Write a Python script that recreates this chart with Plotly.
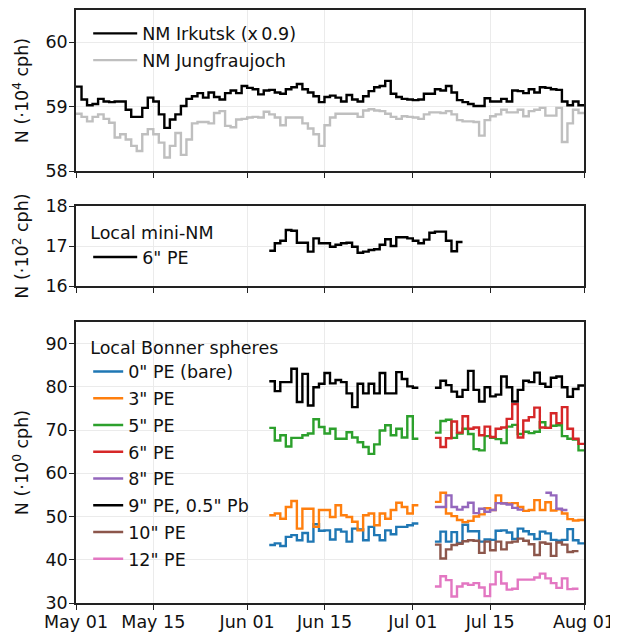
import pandas as pd
import plotly.graph_objects as go

# ---------------- data ----------------
nm_start = "2023-05-01"
irkutsk = [59.31, 59.11, 59.02, 59.04, 59.12, 59.08, 59.07, 59.08, 59.08, 58.95,
           58.84, 58.84, 58.98, 59.14, 59.08, 58.88, 58.67, 58.80, 58.88, 59.01,
           59.12, 59.16, 59.21, 59.14, 59.22, 59.15, 59.11, 59.21, 59.25, 59.21,
           59.32, 59.29, 59.27, 59.19, 59.25, 59.26, 59.22, 59.20, 59.27, 59.30,
           59.35, 59.27, 59.22, 59.16, 59.07, 59.15, 59.17, 59.14, 59.08, 59.18,
           59.11, 59.08, 59.16, 59.24, 59.30, 59.32, 59.40, 59.20, 59.15, 59.12,
           59.11, 59.10, 59.11, 59.20, 59.20, 59.27, 59.25, 59.32, 59.22, 59.10,
           59.07, 59.04, 59.01, 59.01, 59.13, 59.08, 59.08, 59.12, 59.08, 59.25,
           59.24, 59.21, 59.27, 59.22, 59.30, 59.29, 59.27, 59.26, 59.08, 59.02,
           59.08, 59.02]
jungfraujoch = [58.89, 58.84, 58.77, 58.84, 58.88, 58.81, 58.75, 58.52, 58.57, 58.49,
                58.39, 58.31, 58.57, 58.65, 58.57, 58.44, 58.21, 58.39, 58.59, 58.25,
                58.49, 58.74, 58.76, 58.76, 58.74, 58.90, 58.93, 58.70, 58.68, 58.80,
                58.81, 58.83, 58.84, 58.83, 58.92, 58.88, 58.83, 58.71, 58.83, 58.83,
                58.83, 58.74, 58.66, 58.57, 58.39, 58.71, 58.83, 58.89, 58.89, 58.89,
                58.89, 58.84, 58.94, 58.96, 58.94, 58.93, 58.89, 58.84, 58.81, 58.85,
                58.84, 58.83, 58.81, 58.88, 58.91, 58.91, 58.90, 58.93, 58.88, 58.79,
                58.77, 58.77, 58.76, 58.55, 58.79, 58.85, 58.88, 58.95, 58.91, 58.91,
                58.95, 58.85, 58.93, 58.95, 58.98, 58.86, 58.86, 58.98, 58.45, 58.74,
                58.95, 58.90]

local_start = "2023-06-05"
mini_nm_6pe = [16.88, 17.07, 17.13, 17.40, 17.38, 17.08, 17.08, 16.86, 17.19, 17.07,
               17.07, 16.98, 17.03, 17.07, 17.08, 16.98, 16.83, 16.86, 16.90, 16.92,
               17.03, 17.17, 17.00, 17.22, 17.22, 17.19, 17.13, 17.07, 17.16, 17.33,
               17.36, 17.36, 17.13, 16.87, 17.10]

# Bonner spheres: block A = Jun 05..Jul 01, gap Jul 02..04, block B from Jul 05
gap = [None] * 3
no_block_a = [None] * 27
bs0_a = [43.4, 43.8, 43.2, 45.3, 45.7, 44.5, 46.2, 44.2, 48.2, 46.7, 46.8, 44.7, 47.0, 46.5,
         44.2, 47.2, 47.0, 44.5, 47.6, 45.7, 44.5, 46.8, 45.9, 47.6, 47.6, 48.0, 48.4]
bs0_b = [44.2, 46.5, 44.2, 46.4, 43.9, 48.1, 46.6, 46.6, 44.2, 44.7, 44.6, 46.7, 46.8, 46.3,
         44.8, 47.2, 46.6, 45.9, 44.8, 46.5, 46.1, 44.6, 44.4, 44.6, 47.1, 44.5, 43.8]
bs3_a = [50.3, 50.7, 49.5, 52.2, 53.6, 47.2, 51.8, 51.8, 47.6, 51.5, 51.5, 49.9, 52.6, 50.3,
         49.9, 48.8, 46.8, 50.3, 50.7, 48.0, 50.7, 49.5, 51.5, 53.2, 52.2, 50.7, 52.6]
bs3_b = [53.4, 55.5, 50.7, 50.1, 49.2, 48.7, 49.0, 50.0, 50.5, 51.9, 51.5, 54.9, 53.1, 53.0,
         53.1, 52.2, 51.3, 51.5, 53.8, 51.5, 53.3, 51.4, 51.7, 50.7, 49.4, 49.1, 49.2]
bs5_a = [70.5, 67.6, 68.8, 66.2, 68.2, 68.2, 68.8, 69.2, 72.5, 70.7, 69.2, 70.3, 68.0, 68.0,
         69.5, 68.3, 67.2, 66.1, 64.5, 66.7, 69.9, 71.1, 68.8, 70.3, 68.3, 73.2, 68.0]
bs5_b = [69.4, 72.1, 72.4, 68.2, 69.2, 70.3, 69.1, 65.6, 65.3, 68.6, 68.2, 67.9, 67.0, 70.8,
         71.2, 69.1, 69.6, 69.3, 69.6, 71.8, 70.5, 71.0, 71.1, 68.6, 68.0, 67.8, 65.3]
bs6_b = [68.2, 66.1, 68.1, 72.0, 69.4, 73.2, 70.3, 70.6, 68.8, 70.8, 68.4, 70.3, 70.6, 72.6,
         76.0, 68.3, 72.2, 73.0, 75.2, 70.6, 70.5, 73.9, 71.6, 75.3, 70.3, 68.0, 66.8]
bs8_b = [52.2, 52.2, 54.9, 52.2, 51.6, 52.2, 53.2, 50.8, 51.8, 51.1, 51.5, 53.1, 53.0, 52.8,
         52.0, 51.6, None, None, None, None, 55.5, 54.9, 51.8, 51.5]
bs9pb_a = [81.3, 79.0, 81.1, 81.1, 84.2, 76.5, 83.0, 75.7, 79.9, 80.7, 83.2, 80.8, 81.6, 81.1,
           78.5, 75.3, 80.7, 78.5, 80.7, 78.5, 83.2, 78.5, 78.5, 83.4, 81.8, 80.1, 79.8]
bs9pb_b = [79.8, 81.4, 80.4, 78.9, 77.7, 79.3, 83.7, 79.3, 76.6, 79.9, 77.8, 78.2, 82.4, 79.9,
           76.6, 79.3, 81.4, 81.1, 83.3, 80.7, 80.0, 82.1, 82.4, 79.9, 77.7, 79.5, 80.3]
bs10_b = [43.5, 40.3, 42.4, 43.4, 43.7, 44.3, 44.5, 44.4, 41.6, 44.2, 42.2, 44.2, 42.4, 44.0,
          44.2, 44.9, 44.4, 43.6, 41.1, 44.0, 43.7, 40.9, 44.0, 43.5, 41.8, 42.0]
bs12_b = [33.8, 36.2, 35.3, 31.5, 33.8, 34.5, 34.2, 34.6, 33.6, 31.6, 34.3, 37.2, 34.5, 33.1,
          33.3, 35.4, 35.4, 35.4, 35.9, 36.8, 35.7, 34.6, 33.5, 35.7, 33.2, 33.3]

bonner_names = ['0" PE (bare)', '3" PE', '5" PE', '6" PE', '8" PE',
                '9" PE, 0.5" Pb', '10" PE', '12" PE']
bonner_series = [bs0_a + gap + bs0_b, bs3_a + gap + bs3_b, bs5_a + gap + bs5_b,
                 no_block_a + gap + bs6_b, no_block_a + gap + bs8_b,
                 bs9pb_a + gap + bs9pb_b, no_block_a + gap + bs10_b,
                 no_block_a + gap + bs12_b]
bonner_colors = ["#1f77b4", "#ff7f0e", "#2ca02c", "#d62728", "#9467bd",
                 "#000000", "#8c564b", "#e377c2"]

x_range = ["2023-05-01", "2023-08-01"]
tick_dates = ["2023-05-01", "2023-05-15", "2023-06-01", "2023-06-15",
              "2023-07-01", "2023-07-15", "2023-08-01"]
tick_labels = ["May 01", "May 15", "Jun 01", "Jun 15", "Jul 01", "Jul 15", "Aug 01"]


def step_xy(start, vals):
    """Daily step (post) coordinates, breaking at None values."""
    t0 = pd.Timestamp(start)
    xs, ys = [], []
    prev = None
    for i, v in enumerate(list(vals) + [None]):
        t = t0 + pd.Timedelta(days=i)
        if v is None:
            if prev is not None:
                xs += [t, None]
                ys += [prev, None]
        else:
            xs.append(t)
            ys.append(v)
        prev = v
    return xs, ys


FONT = "DejaVu Sans"
FS = 17.5
LW = 2.4

fig = go.Figure()

x, y = step_xy(nm_start, irkutsk)
fig.add_trace(go.Scatter(x=x, y=y, mode="lines", line=dict(color="black", width=LW, shape="hv"),
                         name="NM Irkutsk (x\u20090.9)", xaxis="x", yaxis="y", legend="legend",
                         legendgroup="a1"))
x, y = step_xy(nm_start, jungfraujoch)
fig.add_trace(go.Scatter(x=x, y=y, mode="lines", line=dict(color="#bfbfbf", width=LW, shape="hv"),
                         name="NM Jungfraujoch", xaxis="x", yaxis="y", legend="legend",
                         legendgroup="a2"))

x, y = step_xy(local_start, mini_nm_6pe)
fig.add_trace(go.Scatter(x=x, y=y, mode="lines", line=dict(color="black", width=LW, shape="hv"),
                         name='6" PE', xaxis="x2", yaxis="y2", legend="legend2"))

for i, (nm, vals, col) in enumerate(zip(bonner_names, bonner_series, bonner_colors)):
    x, y = step_xy(local_start, vals)
    fig.add_trace(go.Scatter(x=x, y=y, mode="lines", line=dict(color=col, width=LW, shape="hv"),
                             name=nm, xaxis="x3", yaxis="y3", legend="legend3",
                             legendgroup="b%d" % i))

common_x = dict(type="date", range=x_range, tickvals=tick_dates, ticktext=tick_labels,
                showgrid=True, gridcolor="#ebebeb", gridwidth=1,
                ticks="outside", ticklen=5, tickwidth=1.3, tickcolor="#222",
                showline=True, linecolor="#222", linewidth=1.5, mirror=True,
                tickfont=dict(family=FONT, size=FS, color="#111"), zeroline=False)
common_y = dict(showgrid=True, gridcolor="#ebebeb", gridwidth=1,
                ticks="outside", ticklen=5, tickwidth=1.3, tickcolor="#222",
                showline=True, linecolor="#222", linewidth=1.5, mirror=True,
                ticklabelstandoff=-2,
                tickfont=dict(family=FONT, size=FS, color="#111"), zeroline=False)

H = 593.0
def dom(top_px, bot_px):
    return [(603 - bot_px) / H, (603 - top_px) / H]

LX = 0.024

fig.update_layout(
    width=618, height=629,
    margin=dict(l=68, r=42, t=2, b=34, autoexpand=False),
    paper_bgcolor="white", plot_bgcolor="white",
    font=dict(family=FONT, size=FS, color="#111"),
    showlegend=True,
    xaxis=dict(common_x, anchor="y", showticklabels=False),
    xaxis2=dict(common_x, anchor="y2", showticklabels=False, matches="x"),
    xaxis3=dict(common_x, anchor="y3", matches="x", ticklabelstandoff=-3),
    yaxis=dict(common_y, domain=dom(10, 171), range=[58, 60.5], tickvals=[58, 59, 60],
               title=dict(text="N (·10<sup>4</sup> cph)", font=dict(size=FS), standoff=12)),
    yaxis2=dict(common_y, domain=dom(206, 286), range=[16, 18], tickvals=[16, 17, 18],
                title=dict(text="N (·10<sup>2</sup> cph)", font=dict(size=FS), standoff=12)),
    yaxis3=dict(common_y, domain=dom(322, 603), range=[30, 95],
                tickvals=[30, 40, 50, 60, 70, 80, 90],
                title=dict(text="N (·10<sup>0</sup> cph)", font=dict(size=FS), standoff=12)),
    legend=dict(x=LX, y=0.9907, xanchor="left", yanchor="top", bgcolor="rgba(0,0,0,0)",
                font=dict(size=FS), tracegroupgap=1, itemwidth=44),
    legend2=dict(x=LX, y=0.6519, xanchor="left", yanchor="top",
                 bgcolor="rgba(0,0,0,0)", font=dict(size=FS), itemwidth=44,
                 title=dict(text="Local mini-NM", font=dict(size=FS))),
    legend3=dict(x=LX, y=0.4590, xanchor="left", yanchor="top",
                 bgcolor="rgba(0,0,0,0)", font=dict(size=FS), tracegroupgap=1,
                 title=dict(text="Local Bonner spheres", font=dict(size=FS))),
)

fig.write_html("out.html")
